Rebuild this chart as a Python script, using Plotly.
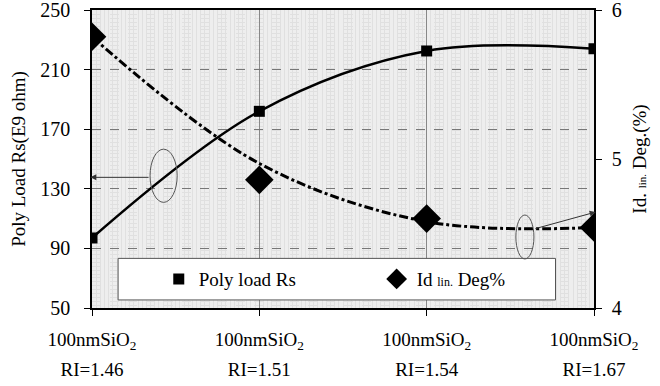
import plotly.graph_objects as go

categories_top = ["100nmSiO<sub>2</sub>"] * 4
categories_bottom = ["RI=1.46", "RI=1.51", "RI=1.54", "RI=1.67"]
x_pos = [0, 1, 2, 3]
rs_values = [97, 182, 222.5, 224]
deg_values = [5.82, 4.86, 4.60, 4.54]
deg_trend = [5.82, 4.97, 4.58, 4.54]
left_ticks = [50, 90, 130, 170, 210, 250]
right_ticks = [4, 5, 6]

FONT = "Liberation Serif, Times New Roman, serif"

tick_text = ["<span style='font-size:19px'>%s<br>%s</span>" % (a, b)
             for a, b in zip(categories_top, categories_bottom)]

fig = go.Figure()

fig.add_trace(go.Scatter(x=x_pos, y=rs_values, mode="lines+markers",
                         line=dict(color="black", width=2.5, shape="spline", smoothing=1),
                         marker=dict(symbol="square", size=11, color="black"),
                         showlegend=False, yaxis="y"))
fig.add_trace(go.Scatter(x=x_pos, y=deg_trend, mode="lines",
                         line=dict(color="black", width=3, dash="dashdot", shape="spline", smoothing=1),
                         showlegend=False, yaxis="y2"))
fig.add_trace(go.Scatter(x=x_pos, y=deg_values, mode="markers",
                         marker=dict(symbol="diamond", size=22, color="black"),
                         showlegend=False, yaxis="y2"))
# legend-only entries
fig.add_trace(go.Scatter(x=[None], y=[None], mode="markers", name="Poly load Rs",
                         marker=dict(symbol="square", size=11, color="black"), legend="legend"))
fig.add_trace(go.Scatter(x=[None], y=[None], mode="markers",
                         name="Id <span style='font-size:12px'>lin.</span> Deg%",
                         marker=dict(symbol="diamond", size=20, color="black"), legend="legend2"))

# legend box
fig.add_shape(type="rect", xref="x", yref="y", x0=0.156, x1=2.77, y0=55.4, y1=83.3,
              fillcolor="white", line=dict(color="#555", width=1), layer="above")

# ellipses
fig.add_shape(type="circle", xref="x", yref="y", x0=0.347, x1=0.509, y0=120.9, y1=156.6,
              line=dict(color="#555", width=1), layer="above")
fig.add_shape(type="circle", xref="x", yref="y2", x0=2.533, x1=2.641, y0=4.329, y1=4.624,
              line=dict(color="#555", width=1), layer="above")

# arrows
fig.add_annotation(x=-0.01, y=137.7, ax=0.347, ay=137.7, xref="x", yref="y",
                   axref="x", ayref="y", text="", showarrow=True, arrowhead=2,
                   arrowsize=1.2, arrowwidth=1, arrowcolor="#333")
fig.add_annotation(x=3.01, y=4.644, ax=2.641, ay=4.53, xref="x", yref="y2",
                   axref="x", ayref="y2", text="", showarrow=True, arrowhead=2,
                   arrowsize=1.2, arrowwidth=1, arrowcolor="#333")

legend_common = dict(orientation="h", yanchor="middle", xanchor="left",
                     bgcolor="rgba(0,0,0,0)", font=dict(size=19, family=FONT, color="black"))

fig.update_layout(
    width=660, height=386,
    margin=dict(l=92, r=66, t=10, b=78, autoexpand=False),
    paper_bgcolor="white", plot_bgcolor="#eeeeee",
    font=dict(family=FONT, color="black", size=19),
    showlegend=True,
    legend=dict(x=0.133, y=0.097, **legend_common),
    legend2=dict(x=0.567, y=0.097, **legend_common),
    xaxis=dict(range=[0, 3], tickvals=x_pos, ticktext=tick_text, automargin=False,
               ticklabeloverflow="allow",
               showgrid=True, gridcolor="#888", gridwidth=1,
               minor=dict(dtick=0.025, showgrid=True, gridcolor="#e0e0e0", gridwidth=1),
               showline=True, linecolor="black", linewidth=1.5, mirror=True,
               ticks="outside", ticklen=6, tickcolor="black", ticklabelstandoff=3,
               tickfont=dict(size=23, family=FONT), zeroline=False),
    yaxis=dict(range=[50, 250], tickvals=left_ticks, automargin=False,
               ticklabeloverflow="allow",
               showgrid=True, gridcolor="#777", gridwidth=1, griddash="dash",
               minor=dict(dtick=2.6, showgrid=True, gridcolor="#e0e0e0", gridwidth=1),
               showline=True, linecolor="black", linewidth=1.5, mirror=True,
               ticks="outside", ticklen=6, tickcolor="black", ticklabelstandoff=10,
               tickfont=dict(size=20, family=FONT), zeroline=False,
               title=dict(text="Poly Load Rs(E9 ohm)", font=dict(size=19, family=FONT), standoff=10)),
    yaxis2=dict(range=[4, 6], tickvals=right_ticks, overlaying="y", side="right", automargin=False,
                ticklabeloverflow="allow",
                showgrid=False, showline=True, linecolor="black", linewidth=1.5,
                ticks="outside", ticklen=6, tickcolor="black", ticklabelstandoff=6,
                tickfont=dict(size=20, family=FONT), zeroline=False,
                title=dict(text="Id. <span style='font-size:11px'>lin.</span> Deg.(%)",
                           font=dict(size=19, family=FONT), standoff=12)),
)

fig.write_html("out.html")
